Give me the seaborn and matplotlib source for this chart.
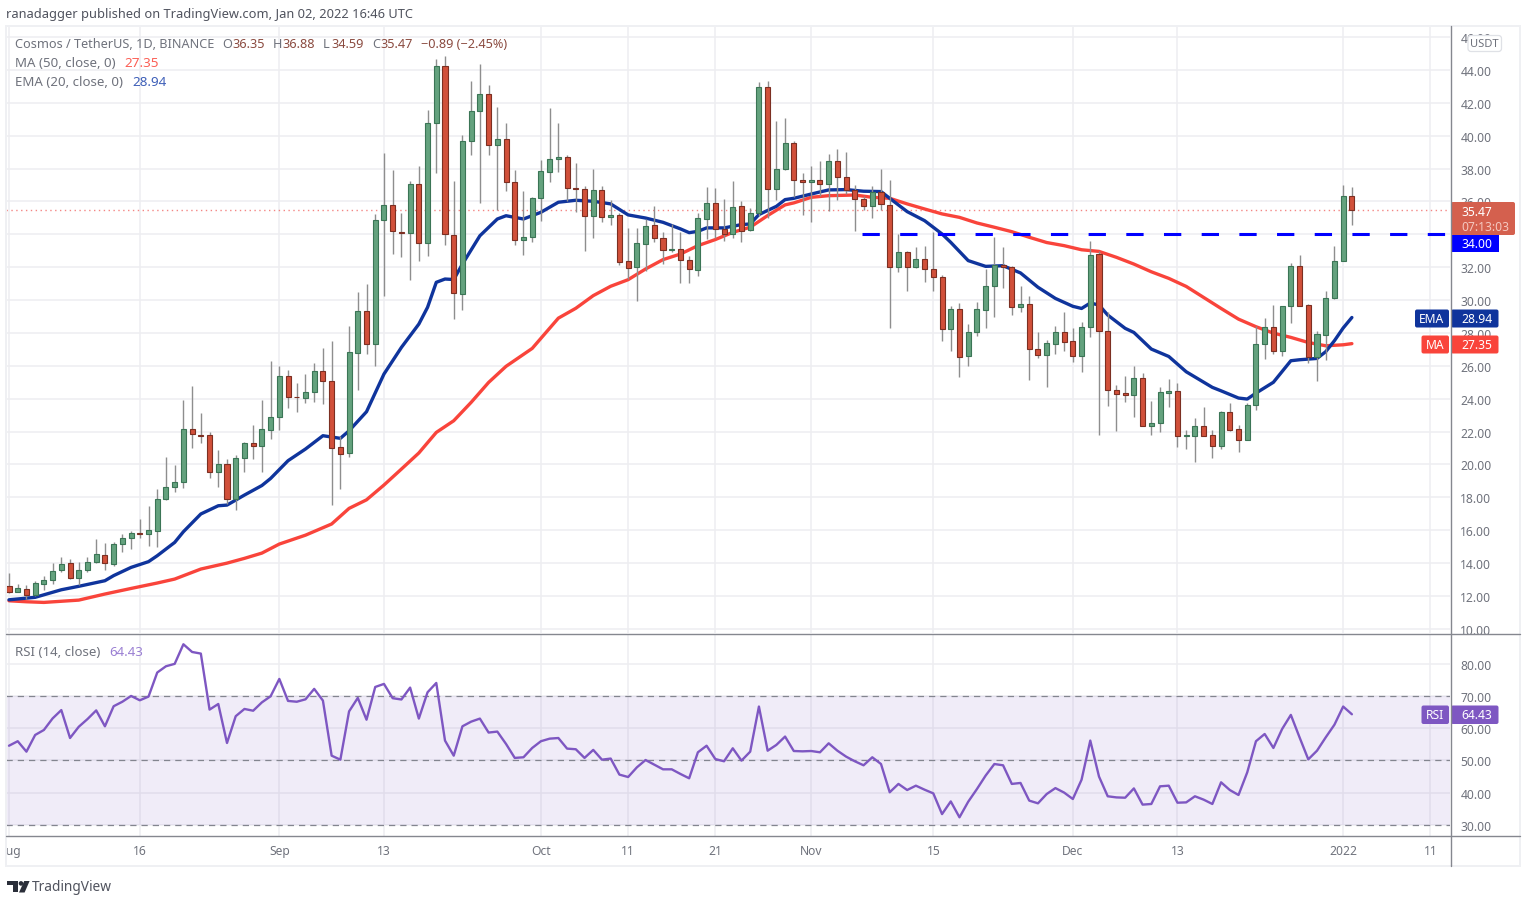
import numpy as np
import pandas as pd
import matplotlib
matplotlib.use('Agg')
import matplotlib.pyplot as plt
from matplotlib.patches import Rectangle, Circle, Polygon, FancyBboxPatch
import seaborn as sns

# daily candles, Aug 1 2021 (day 0) .. Jan 2 2022 (day 154)
opens = [12.59,12.26,12.42,12.06,12.75,12.95,13.56,14.0,13.09,13.58,
         14.05,14.47,13.97,15.14,15.5,15.85,15.75,15.97,17.88,18.63,
         18.91,22.14,21.81,21.79,19.52,20.0,17.88,20.41,21.31,21.14,
         22.11,22.86,25.4,24.12,24.02,24.38,25.66,25.05,21.04,20.67,
         26.78,29.35,27.3,34.87,35.78,34.14,34.06,37.08,33.45,40.75,
         44.26,33.93,30.37,39.65,41.5,42.53,39.45,39.79,37.2,33.65,
         33.86,36.19,37.81,38.56,38.73,36.82,36.74,35.1,36.68,35.04,
         35.18,32.38,31.99,33.43,34.57,33.8,33.03,33.11,32.42,31.81,
         34.95,35.93,34.31,34.0,35.7,34.26,35.3,42.94,36.74,37.96,
         39.54,37.29,37.2,37.29,37.06,38.44,37.49,36.72,36.17,35.7,
         36.6,35.78,32.01,32.9,31.99,32.5,31.89,31.4,28.26,29.44,
         26.62,28.04,29.42,30.86,32.15,32.01,29.56,29.78,27.04,26.65,
         27.34,28.05,27.5,26.61,28.34,32.78,28.11,24.5,24.32,24.22,
         25.25,22.37,22.54,24.36,24.44,21.71,21.75,22.33,21.79,21.14,
         23.17,22.13,21.5,23.63,27.34,28.34,26.88,29.61,32.09,29.7,
         26.55,27.89,30.1,32.35,36.35]
closes = [12.26,12.46,12.06,12.77,12.99,13.52,13.94,13.09,13.6,14.09,
          14.55,13.99,15.16,15.5,15.85,15.75,15.99,17.9,18.65,18.91,
          22.14,21.83,21.75,19.52,20.0,17.88,20.41,21.31,21.14,22.13,
          22.86,25.4,24.1,24.08,24.38,25.66,25.05,21.02,20.61,26.82,
          29.35,27.3,34.87,35.78,34.2,34.06,37.08,33.45,40.77,44.26,
          34.0,30.45,39.65,41.52,42.53,39.45,39.79,37.2,33.65,33.85,
          36.19,37.83,38.58,38.73,36.8,36.74,35.1,36.68,35.04,35.18,
          32.34,31.93,33.47,34.49,33.78,33.03,33.13,32.42,31.87,34.97,
          35.93,34.35,34.0,35.64,34.2,35.3,42.94,36.74,37.96,39.54,
          37.29,37.18,37.29,37.04,38.44,37.47,36.72,36.17,35.7,36.6,
          35.85,32.03,32.9,32.01,32.5,31.89,31.4,28.26,29.44,26.56,
          28.08,29.44,30.88,32.15,31.99,29.56,29.78,27.02,26.65,27.36,
          28.05,27.42,26.61,28.34,32.76,28.11,24.5,24.28,24.22,25.25,
          22.37,22.54,24.38,24.44,21.71,21.79,22.33,21.75,21.14,23.17,
          22.09,21.5,23.63,27.3,28.34,26.88,29.61,32.09,29.66,26.55,
          27.93,30.1,32.35,36.36,35.47]
highs = [13.4,12.73,12.67,12.93,13.23,14.0,14.35,14.23,14.09,14.35,
         15.47,15.2,15.3,15.75,15.97,16.68,17.5,18.5,20.43,19.97,
         23.92,24.75,23.11,22.0,20.86,20.33,20.58,21.39,22.4,23.94,
         26.3,25.97,25.76,24.95,25.5,26.17,27.06,27.49,21.75,28.44,
         30.47,30.98,35.23,38.92,37.93,35.29,37.22,38.13,41.56,44.66,
         44.82,37.22,40.04,43.3,44.36,43.1,41.72,40.77,37.91,36.61,
         36.29,38.54,41.67,40.77,38.83,38.32,36.92,37.98,36.96,36.11,
         35.3,34.37,34.37,34.93,35.75,34.16,34.63,34.16,32.66,35.3,
         36.9,36.82,36.15,37.22,36.01,35.58,43.25,43.31,40.92,41.06,
         39.7,37.71,38.18,38.44,38.89,39.19,38.99,37.02,36.35,36.96,
         37.97,37.31,34.0,33.01,33.21,33.27,34.16,31.53,29.66,29.8,
         28.54,29.86,31.89,33.82,33.21,32.09,30.88,30.27,28.08,27.59,
         28.4,29.29,28.28,28.64,33.61,33.0,29.25,24.83,25.4,25.96,
         25.54,23.86,24.73,25.19,24.93,22.11,22.8,23.51,22.07,23.27,
         23.71,22.42,23.71,28.44,28.89,29.7,29.65,32.23,32.74,29.76,
         28.13,30.53,33.27,37.0,36.88]
lows = [12.18,12.22,11.8,11.98,12.38,12.75,13.44,13.03,12.67,13.44,
        14.0,13.56,13.84,14.65,14.86,15.5,15.06,15.0,17.84,18.35,
        18.55,21.0,21.29,19.2,18.6,17.6,17.25,19.52,20.33,19.52,
        21.55,22.1,23.45,23.2,23.74,23.82,23.67,17.53,18.5,20.47,
        24.55,26.74,26.0,30.26,32.82,32.6,31.24,32.39,32.66,37.71,
        33.37,28.84,29.41,38.82,35.88,38.82,35.47,36.63,33.37,32.76,
        33.51,34.79,37.21,37.81,36.05,35.34,33.01,33.78,34.77,34.59,
        32.14,31.28,29.97,31.79,33.51,32.2,32.91,31.04,31.04,31.45,
        33.72,33.8,33.62,33.78,33.51,34.18,35.14,35.0,36.11,37.9,
        36.25,35.2,34.73,36.35,35.44,36.09,36.45,34.18,35.48,35.0,
        35.48,28.32,31.73,30.57,31.95,31.12,30.57,27.49,26.88,25.3,
        25.97,27.84,28.3,28.99,30.71,29.11,29.25,25.16,26.46,24.69,
        26.71,26.92,26.25,25.64,27.77,21.81,23.53,22.01,23.81,22.86,
        22.35,21.81,21.95,23.47,21.08,20.94,20.18,21.71,20.39,20.94,
        22.01,20.73,21.48,23.33,26.41,26.71,26.61,28.58,29.61,26.17,
        25.09,26.37,30.06,32.38,34.59]

# indicator lines at these days
ema_days = [0,3,6,8,11,12,14,16,17,19,20,22,24,25,27,29,30,32,34,36,38,39,41,43,45,47,48,49,50,51,
            52,54,56,57,59,61,63,65,67,69,71,73,75,77,78,79,80,82,84,85,86,88,89,90,92,94,96,98,100,101,
            103,105,107,108,110,112,114,116,118,120,122,123,124,125,126,128,129,131,133,135,138,139,141,142,143,145,
            147,148,150,151,152,153,154]
ema_values = [11.77,11.92,12.38,12.59,12.93,13.24,13.74,14.09,14.45,15.26,15.91,16.99,17.49,17.53,18.14,18.72,19.15,20.23,20.94,21.75,21.59,22.05,23.21,25.5,27.12,28.54,29.56,31.08,31.28,31.25,
              32.19,33.91,34.93,35.13,34.93,35.34,35.95,36.07,36.01,35.85,35.18,34.99,34.73,34.33,34.1,34.18,34.39,34.39,34.59,34.63,35.2,35.7,36.11,36.19,36.45,36.7,36.72,36.62,36.6,36.19,
              35.38,34.83,34.02,33.51,32.4,32.05,32.09,31.65,30.78,30.1,29.62,29.49,29.82,29.7,29.09,28.28,28.03,27.02,26.57,25.64,24.69,24.48,24.04,23.98,24.34,25.0,
              26.31,26.37,26.45,26.86,27.53,28.3,28.94]
ma_days = [0,2,4,8,11,14,17,19,22,25,27,29,31,34,37,39,41,43,45,47,49,51,53,55,57,60,63,65,67,69,71,73,75,77,79,81,83,85,87,89,90,
           92,94,97,99,101,103,105,107,109,111,113,115,117,119,121,123,125,127,129,131,133,135,137,139,141,143,145,147,149,151,153,154]
ma_values = [11.71,11.65,11.61,11.75,12.12,12.46,12.79,13.03,13.64,14.0,14.29,14.61,15.16,15.7,16.38,17.33,17.85,18.75,19.72,20.7,21.95,22.66,23.78,24.99,25.97,27.06,28.9,29.5,30.27,30.84,31.24,31.89,32.46,32.8,33.31,33.68,34.12,34.43,35.14,35.79,35.91,
             36.25,36.35,36.39,36.25,36.19,35.85,35.54,35.24,35.03,34.69,34.43,34.16,33.82,33.5,33.31,33.06,32.96,32.6,32.19,31.72,31.32,30.83,30.16,29.49,28.84,28.38,27.99,27.73,27.42,27.22,27.28,27.35]

rsi_values = [54.6,56.0,52.75,57.95,59.5,63.1,65.7,57.0,60.5,62.9,65.6,60.65,66.9,68.3,70.1,68.75,69.9,77.4,79.35,80.1,
              86.2,83.8,83.3,65.85,67.6,55.45,63.8,66.05,65.5,68.1,70.0,75.4,68.55,68.3,69.05,72.3,68.65,51.5,50.25,65.3,
              69.5,62.7,72.9,73.85,69.4,69.0,72.7,63.05,71.25,74.15,56.2,51.5,60.65,62.1,63.05,58.7,59.0,55.15,50.8,51.0,
              53.9,56.0,56.8,57.0,53.7,53.5,50.8,53.3,50.25,50.6,45.6,44.85,47.85,50.15,48.7,47.25,47.25,45.8,44.45,52.55,
              54.6,50.45,49.75,53.8,49.95,52.75,66.8,53.05,54.85,57.45,52.95,52.85,52.95,52.55,55.35,53.05,51.2,49.75,48.5,51.0,
              48.9,40.1,42.7,40.8,42.15,40.9,39.75,33.3,37.25,32.3,37.15,41.1,45.3,48.9,48.5,42.7,43.0,37.5,36.65,39.55,
              41.4,40.0,38.0,44.0,56.2,45.0,38.85,38.5,38.4,41.3,36.25,36.45,41.95,42.15,36.85,36.95,38.85,37.8,36.45,43.2,
              40.8,39.25,46.3,56.0,58.25,53.9,59.8,64.2,57.2,50.35,53.05,57.2,61.15,66.8,64.4]

date_ticks = [0,15,31,43,61,71,81,92,106,122,134,153,163]
date_labels = ['Aug','16','Sep','13','Oct','11','21','Nov','15','Dec','13','2022','11']
price_ticks = list(range(10, 48, 2))
rsi_ticks = [30, 40, 50, 60, 70, 80]
level_34 = 34.0
last_close = 35.47

GREEN = '#64a27e'
GREEN_EDGE = '#3b7556'
RED = '#d1503a'
RED_EDGE = '#7c2f22'
WICK = '#8e8e8e'
GRID = '#eeeef1'
TEXT = '#6f727c'
EMA_COL = '#0f349c'
MA_COL = '#f9443b'
RSI_COL = '#7e57c2'

sns.set_theme(style='white')
plt.rcParams['font.family'] = ['Noto Sans', 'DejaVu Sans']
plt.rcParams['font.size'] = 8.7

W, H = 1528, 903
fig = plt.figure(figsize=(W / 100, H / 100), dpi=100, facecolor='white')


def px_axes(x0, y0, x1, y1):
    return fig.add_axes([x0 / W, 1 - y1 / H, (x1 - x0) / W, (y1 - y0) / H])


ax = px_axes(6, 27, 1450, 634)
ax_rsi = px_axes(6, 635, 1450, 836.7)

candles = pd.DataFrame({'open': opens, 'high': highs, 'low': lows, 'close': closes})
candles['day'] = candles.index
up = candles['close'] >= candles['open']
ax.vlines(candles['day'], candles['low'], candles['high'], color=WICK, linewidth=1.0, zorder=3)
ax.bar(candles['day'], candles['close'] - candles['open'], bottom=candles['open'], width=0.58,
       color=np.where(up, GREEN, RED), edgecolor=np.where(up, GREEN_EDGE, RED_EDGE), linewidth=0.8, zorder=4)

sns.lineplot(x=ma_days, y=ma_values, color=MA_COL, linewidth=2.4, ax=ax, zorder=2, errorbar=None, solid_joinstyle='round')
sns.lineplot(x=ema_days, y=ema_values, color=EMA_COL, linewidth=2.4, ax=ax, zorder=2.1, errorbar=None, solid_joinstyle='round')

x_left = (6 - 9) / 8.72
x_right = (1450 - 9) / 8.72
ax.hlines(last_close, x_left, x_right, color='#ef5350', linewidth=1.0, linestyles=(0, (1, 2.5)), alpha=0.7, zorder=1.5)
ax.plot([97.85, x_right], [level_34, level_34], color='#0000ff', linewidth=2.2, dashes=(17 / 3, 20 / 3), zorder=2.5)

ax.set_xlim(x_left, x_right)
ax.set_ylim(9.75, 46.67)
ax.yaxis.tick_right()
ax.set_yticks(price_ticks)
ax.set_yticklabels(['%.2f' % t for t in price_ticks])
ax.set_xticks(date_ticks)
ax.tick_params(axis='x', length=0, labelbottom=False)
ax.tick_params(axis='y', length=0, pad=7.5, labelcolor=TEXT, labelsize=8.7)
ax.grid(True, color=GRID, linewidth=1.1, zorder=0)
ax.set_axisbelow(True)

ax_rsi.axhspan(30, 70, color=RSI_COL, alpha=0.11, linewidth=0, zorder=1)
sns.lineplot(x=candles['day'], y=rsi_values, color=RSI_COL, linewidth=1.7, ax=ax_rsi, zorder=3, errorbar=None)
for lev in [30, 50, 70]:
    ax_rsi.axhline(lev, color='#83858f', linewidth=0.9, dashes=(5, 4), zorder=2)
ax_rsi.set_xlim(x_left, x_right)
ax_rsi.set_ylim(26.57, 89.4)
ax_rsi.yaxis.tick_right()
ax_rsi.set_yticks(rsi_ticks)
ax_rsi.set_yticklabels(['%.2f' % t for t in rsi_ticks])
ax_rsi.set_xticks(date_ticks)
ax_rsi.set_xticklabels(date_labels)
ax_rsi.tick_params(axis='x', length=0, pad=6, labelcolor=TEXT, labelsize=8.7)
ax_rsi.tick_params(axis='y', length=0, pad=7.5, labelcolor=TEXT, labelsize=8.7)
ax_rsi.get_xticklabels()[11].set_fontweight('bold')
ax_rsi.grid(True, color=GRID, linewidth=1.1, zorder=0)
ax_rsi.set_axisbelow(True)
ax_rsi.set_xlabel('')
ax_rsi.set_ylabel('')
for a in (ax, ax_rsi):
    sns.despine(ax=a, left=True, right=True, top=True, bottom=True)

# overlay in pixel coordinates for frame, legend texts and price tags
ov = fig.add_axes([0, 0, 1, 1])
ov.set_xlim(0, W)
ov.set_ylim(H, 0)
ov.axis('off')

ov.add_patch(Rectangle((0, 840), 5.5, 22, color='white', zorder=1))
ov.add_patch(Rectangle((6, 27), 1514, 840, fill=False, edgecolor='#eff0f3', linewidth=1.4))
ov.plot([6, 1520], [634.5, 634.5], color='#85878f', linewidth=1.0)
ov.plot([6, 1520], [836.7, 836.7], color='#85878f', linewidth=1.0)
ov.plot([1450.5, 1450.5], [27, 867], color='#85878f', linewidth=1.0)


def label(x, y, s, color=TEXT, size=8.7, **kw):
    ov.text(x, y, s, color=color, fontsize=size, va='center', ha=kw.pop('ha', 'left'), **kw)


label(6, 14.3, 'ranadagger published on TradingView.com, Jan 02, 2022 16:46 UTC', color='#50535e', size=9.25)
label(15, 44.8, 'Cosmos / TetherUS, 1D, BINANCE', size=9.15)
BROWN = '#8b4b40'
for xt, ch, xv, val in [(222, 'O', 232, '36.35'), (273, 'H', 282, '36.88'), (323, 'L', 331, '34.59'), (372, 'C', 380, '35.47')]:
    label(xt, 44.8, ch, size=9.15)
    label(xv, 44.8, val, color=BROWN, size=9.15)
label(421, 44.8, '\u22120.89 (\u22122.45%)', color=BROWN, size=9.15)
label(15, 63.8, 'MA (50, close, 0)', size=9.55)
label(124, 63.8, '27.35', color='#fb5f55', size=9.7)
label(15, 82.8, 'EMA (20, close, 0)', size=9.55)
label(132, 82.8, '28.94', color='#3e5fb8', size=9.7)
label(15, 652.8, 'RSI (14, close)', size=9.55)
label(109, 652.8, '64.43', color='#9a7fd3', size=9.5)

# price tags on the right axis
ov.add_patch(FancyBboxPatch((1451, 203), 64, 33, boxstyle='round,pad=0,rounding_size=2', color='#d4604e', linewidth=0))
label(1461, 212.5, '35.47', color='white', fontweight='bold')
label(1461, 227.5, '07:13:03', color='#f4c8c0', fontweight='bold')
ov.add_patch(Rectangle((1451, 236), 47.5, 17, color='#0000ff', linewidth=0))
label(1461, 244.5, '34.00', color='white', fontweight='bold')
for name, x0, y0, y1, col, val in [('EMA', 1415, 310.5, 328.5, EMA_COL, '28.94'),
                                   ('MA', 1421.5, 336.5, 354.5, MA_COL, '27.35'),
                                   ('RSI', 1421.5, 706.5, 725, RSI_COL, '64.43')]:
    ov.add_patch(FancyBboxPatch((x0, y0), 1449 - x0, y1 - y0, boxstyle='round,pad=0,rounding_size=2', color=col, linewidth=0))
    ov.add_patch(FancyBboxPatch((1451, y0), 47.5, y1 - y0, boxstyle='round,pad=0,rounding_size=2', color=col, linewidth=0))
    label((x0 + 1449) / 2, (y0 + y1) / 2, name, color='white', ha='center', fontweight='bold')
    label(1461, (y0 + y1) / 2, val, color='white', fontweight='bold')

ov.add_patch(FancyBboxPatch((1468, 36.5), 33.5, 16, boxstyle='round,pad=0,rounding_size=3', facecolor='white', edgecolor='#dfe1e6', linewidth=0.9))
label(1484.7, 44.5, 'USDT', ha='center', size=8.0)

# TradingView logo
LOGO = '#2a2e39'
ov.add_patch(Rectangle((6.7, 882), 11.3, 4.2, color=LOGO, linewidth=0))
ov.add_patch(Rectangle((12.6, 882), 5.4, 11.5, color=LOGO, linewidth=0))
ov.add_patch(Circle((21, 884.4), 2.3, color=LOGO, linewidth=0))
ov.add_patch(Polygon([(24.2, 882), (29.6, 882), (24.6, 893.5), (19, 893.5)], closed=True, color=LOGO, linewidth=0))
label(32, 887.8, 'TradingView', color='#50535e', size=9.85)

fig.savefig('out.png', dpi=100)
